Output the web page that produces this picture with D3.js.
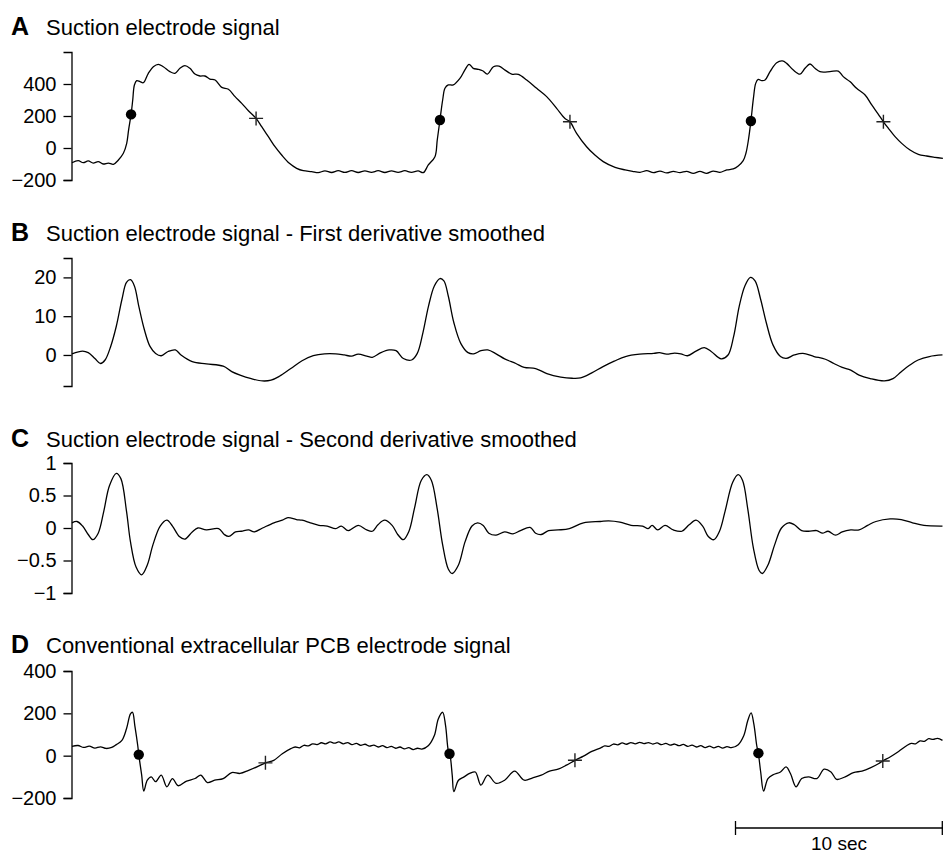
<!DOCTYPE html>
<html>
<head>
<meta charset="utf-8">
<script src="https://cdn.jsdelivr.net/npm/d3@7"></script>
<style>
body { margin: 0; background: #fff; }
svg text { font-family: "Liberation Sans", Arial, Helvetica, sans-serif; }
</style>
</head>
<body>
<div id="chart"></div>
<script>
// recording length shown (sec) and scale bar length
var duration = 41.875;
var scaleBarSec = 10;

var panelLetters = ['A', 'B', 'C', 'D'];
var panelTitles = [
	'Suction electrode signal',
	'Suction electrode signal - First derivative smoothed',
	'Suction electrode signal - Second derivative smoothed',
	'Conventional extracellular PCB electrode signal'
];

// tick labels per panel
var ticksA = [-200, 0, 200, 400];
var ticksB = [0, 10, 20];
var ticksC = [-1, -0.5, 0, 0.5, 1];
var ticksD = [-200, 0, 200, 400];

// [time (s), value]
var suction = [
	[0.00,-92],[0.30,-79],[0.54,-92],[0.78,-81],[1.02,-94],[1.26,-85],[1.50,-100],[1.75,-94],[1.99,-102],
	[2.23,-75],[2.47,-33],[2.63,29],[2.72,112],[2.84,210],[2.92,300],[3.00,394],[3.11,421],[3.27,415],
	[3.43,408],[3.67,467],[3.91,508],[4.15,523],[4.39,508],[4.71,477],[4.95,467],[5.19,498],[5.43,515],
	[5.67,498],[5.91,462],[6.15,450],[6.39,450],[6.63,431],[6.88,425],[7.20,379],[7.52,367],[7.84,321],
	[8.16,279],[8.48,233],[8.85,185],[9.12,133],[9.44,71],[9.76,8],[10.08,-44],[10.45,-96],[10.80,-127],
	[11.12,-142],[11.52,-148],[11.84,-154],[12.16,-143],[12.48,-153],[12.80,-142],[13.12,-152],[13.44,-142],
	[13.76,-153],[14.08,-143],[14.40,-152],[14.72,-142],[15.04,-153],[15.36,-143],[15.68,-152],[16.00,-142],
	[16.32,-152],[16.64,-143],[16.89,-154],[17.13,-106],[17.45,-54],[17.56,50],[17.69,175],[17.82,300],
	[17.93,373],[18.09,394],[18.33,394],[18.65,435],[18.89,488],[19.09,523],[19.29,498],[19.53,492],
	[19.74,483],[19.97,462],[20.26,508],[20.53,512],[20.82,487],[21.14,462],[21.46,460],[21.86,425],
	[22.34,373],[22.82,321],[23.30,248],[23.70,185],[23.94,164],[24.26,92],[24.74,8],[25.14,-44],
	[25.54,-85],[26.11,-121],[26.59,-137],[26.95,-146],[27.31,-152],[27.63,-142],[27.95,-154],[28.27,-144],
	[28.59,-156],[28.91,-146],[29.23,-154],[29.55,-146],[29.87,-158],[30.19,-146],[30.51,-158],[30.83,-144],
	[31.15,-152],[31.48,-137],[31.79,-131],[32.03,-112],[32.27,-79],[32.40,-33],[32.52,50],[32.64,169],
	[32.76,310],[32.87,404],[32.99,429],[33.16,421],[33.32,425],[33.56,477],[33.88,533],[34.15,544],
	[34.36,529],[34.68,487],[35.00,462],[35.24,498],[35.48,525],[35.72,498],[35.96,477],[36.44,477],
	[36.84,481],[37.08,446],[37.40,415],[37.72,373],[38.13,331],[38.45,269],[38.76,212],[39.01,164],
	[39.25,123],[39.57,71],[39.89,29],[40.29,-13],[40.69,-40],[41.09,-50],[41.49,-58],[41.87,-65]
];
var suctionDots = [[2.84,210],[17.69,175],[32.64,169]];
var suctionCrosses = [[8.85,185],[23.94,164],[39.01,164]];

var firstDeriv = [
	[0.00,0.3],[0.51,1.0],[0.78,0.6],[1.10,-0.9],[1.37,-2.2],[1.59,-1.3],[1.86,2.2],[2.13,7.4],[2.40,14.3],
	[2.62,18.7],[2.81,19.4],[3.00,17.8],[3.21,12.6],[3.48,6.5],[3.75,2.2],[4.02,0.4],[4.29,-0.2],[4.62,0.9],
	[4.97,1.3],[5.24,0.0],[5.78,-1.7],[6.46,-2.3],[7.27,-2.9],[7.68,-4.3],[8.08,-5.2],[8.62,-6.1],[9.16,-6.7],
	[9.57,-6.5],[9.97,-5.5],[10.52,-3.5],[11.06,-1.5],[11.60,-0.2],[12.14,0.3],[12.68,0.3],[13.09,0.0],
	[13.44,-0.3],[13.76,0.2],[14.17,-0.3],[14.44,-0.6],[14.85,0.6],[15.25,1.3],[15.58,1.1],[15.93,-0.9],
	[16.33,-1.3],[16.60,0.4],[16.87,5.7],[17.14,12.6],[17.42,17.8],[17.69,19.7],[17.88,19.1],[18.09,15.2],
	[18.36,8.3],[18.69,3.0],[19.04,0.6],[19.31,0.3],[19.66,1.1],[19.99,1.3],[20.39,0.3],[20.80,-1.0],
	[21.34,-2.2],[21.74,-3.2],[22.29,-3.5],[22.83,-4.8],[23.50,-5.7],[24.04,-6.0],[24.45,-5.9],[24.99,-4.6],
	[25.53,-3.0],[26.07,-1.6],[26.61,-0.4],[27.29,0.2],[27.97,0.4],[28.24,0.6],[28.59,0.2],[28.97,0.5],
	[29.27,0.3],[29.59,-0.2],[30.00,1.0],[30.40,1.9],[30.73,0.9],[31.21,-1.0],[31.54,0.0],[31.81,4.8],
	[32.08,12.6],[32.35,17.8],[32.62,20.0],[32.84,19.1],[33.11,14.3],[33.38,8.3],[33.70,2.6],[34.06,-0.4],
	[34.33,-0.9],[34.73,0.0],[35.14,0.4],[35.68,-0.4],[36.22,-1.1],[36.63,-2.2],[37.03,-3.2],[37.44,-3.9],
	[37.84,-5.2],[38.38,-6.1],[39.06,-6.7],[39.47,-6.1],[39.87,-4.3],[40.28,-2.6],[40.68,-1.3],[41.22,-0.4],
	[41.85,0.0]
];

var secondDeriv = [
	[0.00,0.08],[0.24,0.10],[0.51,0.03],[0.78,-0.10],[1.00,-0.18],[1.26,-0.08],[1.53,0.26],[1.80,0.65],
	[2.13,0.84],[2.35,0.76],[2.62,0.26],[2.81,-0.21],[3.08,-0.60],[3.35,-0.72],[3.62,-0.57],[3.89,-0.26],
	[4.24,0.03],[4.56,0.12],[4.83,0.03],[5.16,-0.13],[5.43,-0.17],[5.78,-0.06],[6.05,0.00],[6.46,-0.03],
	[7.05,-0.01],[7.32,-0.10],[7.54,-0.13],[7.86,-0.06],[8.14,-0.05],[8.49,-0.03],[8.76,-0.06],[9.16,0.00],
	[9.71,0.08],[10.11,0.12],[10.38,0.16],[10.79,0.13],[11.06,0.12],[11.46,0.08],[11.87,0.04],[12.27,0.03],
	[12.68,-0.01],[12.95,0.03],[13.28,-0.04],[13.76,0.04],[14.17,-0.03],[14.44,-0.05],[14.71,0.05],
	[15.03,0.12],[15.39,0.04],[15.66,-0.10],[15.93,-0.18],[16.20,-0.05],[16.47,0.31],[16.79,0.73],
	[17.06,0.82],[17.28,0.73],[17.55,0.31],[17.82,-0.26],[18.09,-0.63],[18.28,-0.70],[18.58,-0.57],
	[18.90,-0.21],[19.23,0.03],[19.50,0.08],[19.77,0.04],[20.04,-0.08],[20.39,-0.11],[20.80,-0.06],
	[21.20,-0.09],[21.56,-0.04],[22.02,0.01],[22.29,-0.08],[22.56,-0.10],[22.91,-0.04],[23.37,-0.03],
	[23.91,-0.01],[24.59,0.08],[25.40,0.10],[25.80,0.11],[26.34,0.09],[26.88,0.04],[27.43,0.03],[27.70,-0.01],
	[27.89,0.04],[28.16,-0.03],[28.51,0.04],[28.91,-0.03],[29.32,-0.05],[29.67,0.05],[30.00,0.12],[30.32,0.03],
	[30.59,-0.13],[30.86,-0.18],[31.13,-0.05],[31.40,0.26],[31.76,0.70],[32.03,0.82],[32.24,0.73],[32.49,0.29],
	[32.76,-0.31],[33.03,-0.65],[33.19,-0.70],[33.46,-0.57],[33.78,-0.26],[34.11,0.00],[34.46,0.08],
	[34.73,0.05],[35.08,-0.04],[35.41,-0.05],[35.81,-0.04],[36.08,-0.08],[36.35,-0.05],[36.71,-0.11],
	[37.03,-0.06],[37.44,-0.03],[37.84,-0.03],[38.25,0.04],[38.65,0.10],[39.33,0.14],[39.87,0.13],
	[40.41,0.08],[40.96,0.04],[41.85,0.03]
];

var pcb = [
	[0.00,44],[0.29,48],[0.56,39],[0.83,45],[1.10,36],[1.37,42],[1.64,34],[1.91,39],[2.13,52],[2.40,72],
	[2.62,127],[2.81,197],[2.91,205],[3.02,142],[3.16,48],[3.21,5],[3.35,-92],[3.45,-167],[3.62,-116],
	[3.81,-100],[4.02,-123],[4.29,-92],[4.56,-147],[4.83,-108],[5.10,-142],[5.51,-120],[5.92,-108],
	[6.19,-92],[6.51,-127],[6.86,-116],[7.27,-108],[7.68,-80],[8.08,-84],[8.49,-69],[8.89,-53],[9.30,-34],
	[9.70,-22],[10.11,9],[10.52,33],[10.73,41],[10.94,37],[11.15,49],[11.36,46],[11.57,56],[11.78,52],
	[11.99,61],[12.20,56],[12.41,65],[12.62,59],[12.83,65],[13.04,56],[13.25,62],[13.46,52],[13.67,58],
	[13.88,49],[14.09,54],[14.30,45],[14.51,50],[14.72,41],[14.93,47],[15.14,38],[15.35,44],[15.56,35],
	[15.77,41],[15.98,32],[16.19,38],[16.40,29],[16.61,35],[16.82,31],[17.14,48],[17.42,95],[17.61,173],
	[17.82,205],[17.96,142],[18.09,25],[18.17,5],[18.28,-92],[18.36,-170],[18.58,-116],[18.85,-100],
	[19.12,-84],[19.39,-77],[19.66,-139],[19.99,-92],[20.39,-131],[20.80,-116],[21.28,-73],[21.74,-116],
	[22.15,-105],[22.56,-92],[22.96,-73],[23.37,-64],[23.77,-45],[24.18,-22],[24.59,-2],[24.99,20],
	[25.40,36],[25.61,46],[25.82,44],[26.03,55],[26.24,51],[26.45,60],[26.66,54],[26.87,62],[27.08,56],
	[27.29,63],[27.50,57],[27.71,62],[27.92,55],[28.13,60],[28.34,52],[28.55,58],[28.76,50],[28.97,55],
	[29.18,47],[29.39,53],[29.60,44],[29.81,50],[30.02,41],[30.23,47],[30.44,38],[30.65,45],[30.86,37],
	[31.07,44],[31.28,36],[31.49,43],[31.70,38],[32.03,52],[32.30,95],[32.49,166],[32.65,202],[32.78,150],
	[32.92,48],[33.00,9],[33.11,-77],[33.25,-167],[33.46,-108],[33.73,-89],[34.06,-77],[34.33,-53],
	[34.54,-84],[34.81,-147],[35.08,-108],[35.41,-100],[35.81,-108],[36.16,-64],[36.49,-77],[36.76,-112],
	[37.17,-100],[37.57,-80],[37.98,-73],[38.38,-58],[38.79,-37],[38.98,-25],[39.33,-6],[39.74,20],
	[40.14,48],[40.35,58],[40.56,56],[40.77,70],[40.98,68],[41.19,80],[41.40,77],[41.61,82],[41.85,72]
];
var pcbDots = [[3.21,5],[18.15,9],[33.00,12]];
var pcbCrosses = [[9.30,-34],[24.18,-22],[38.98,-25]];

var w = 943;
var h = 856;

var svg = d3.select('#chart').append('svg')
	.attr('width', w)
	.attr('height', h);

var x = d3.scaleLinear().domain([0, duration]).range([72, 943]);

var panels = [
	{ data: suction, domain: [-200, 600], top: 52, bottom: 180, titleY: 35, ticks: ticksA, dots: suctionDots, crosses: suctionCrosses },
	{ data: firstDeriv, domain: [-8, 25], top: 258, bottom: 386, titleY: 241, ticks: ticksB },
	{ data: secondDeriv, domain: [-1, 1], top: 463, bottom: 593, titleY: 447, ticks: ticksC },
	{ data: pcb, domain: [-200, 400], top: 671, bottom: 798, titleY: 653, ticks: ticksD, dots: pcbDots, crosses: pcbCrosses }
];

panels.forEach(function (p, i) {
	var y = d3.scaleLinear().domain(p.domain).range([p.bottom, p.top]);

	// panel letter + title
	svg.append('text')
		.attr('x', 11)
		.attr('y', p.titleY)
		.attr('font-size', '25px')
		.attr('font-weight', 'bold')
		.text(panelLetters[i]);
	svg.append('text')
		.attr('x', 46)
		.attr('y', p.titleY)
		.attr('font-size', '22px')
		.text(panelTitles[i]);

	// y axis
	var axis = svg.append('g')
		.attr('transform', 'translate(71.5,0)')
		.call(d3.axisLeft(y)
			.tickValues(p.ticks)
			.tickSize(8)
			.tickSizeOuter(8)
			.tickPadding(7)
			.tickFormat(d3.format('~g')));
	axis.attr('font-family', null).attr('font-size', null);
	axis.selectAll('path, line').attr('stroke', '#000').attr('stroke-width', 1.3);
	axis.selectAll('text').attr('font-size', '20px').attr('fill', '#000');

	// trace
	var line = d3.line()
		.x(function (d) { return x(d[0]); })
		.y(function (d) { return y(d[1]); })
		.curve(d3.curveCatmullRom.alpha(0.5));

	svg.append('path')
		.datum(p.data)
		.attr('d', line)
		.attr('fill', 'none')
		.attr('stroke', '#000')
		.attr('stroke-width', 1.3);

	if (p.dots) {
		svg.selectAll(null)
			.data(p.dots)
			.enter()
			.append('circle')
			.attr('cx', function (d) { return x(d[0]); })
			.attr('cy', function (d) { return y(d[1]); })
			.attr('r', 5.2)
			.attr('fill', '#000');
	}
	if (p.crosses) {
		svg.selectAll(null)
			.data(p.crosses)
			.enter()
			.append('path')
			.attr('transform', function (d) { return 'translate(' + x(d[0]) + ',' + y(d[1]) + ')'; })
			.attr('d', 'M-7,0H7M0,-7V7')
			.attr('stroke', '#222')
			.attr('stroke-width', 1.4)
			.attr('fill', 'none');
	}
});

// scale bar
var barY = 828;
var bar = svg.append('g');
var bx0 = x(duration - scaleBarSec);
var bx1 = x(duration);
bar.append('path')
	.attr('d', 'M' + bx0 + ',' + barY + 'H' + bx1 +
		'M' + (bx0 + 0.5) + ',' + (barY - 7) + 'V' + (barY + 7) +
		'M' + (bx1 - 0.7) + ',' + (barY - 7) + 'V' + (barY + 7))
	.attr('stroke', '#000')
	.attr('stroke-width', 1.3)
	.attr('fill', 'none');
bar.append('text')
	.attr('x', (bx0 + bx1) / 2)
	.attr('y', 850)
	.attr('text-anchor', 'middle')
	.attr('font-size', '19px')
	.text(scaleBarSec + ' sec');
</script>
</body>
</html>
